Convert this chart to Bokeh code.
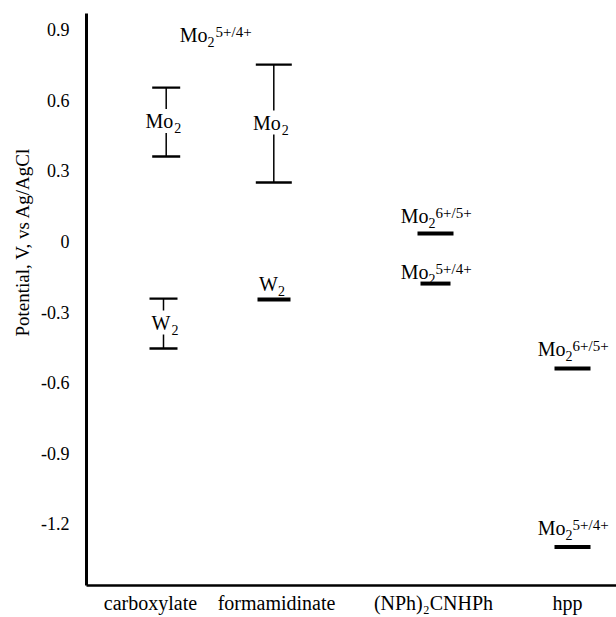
import numpy as np
from bokeh.plotting import figure
from bokeh.models import Range1d, FixedTicker, ColumnDataSource, Title
from bokeh.core.properties import value
from bokeh.embed import file_html
from bokeh.resources import INLINE

# ---------------- data ----------------
categories = ["carboxylate", "formamidinate", "(NPh)\u2082CNHPh", "hpp"]
category_x = [0.64, 1.90, 3.47, 4.81]

y_ticks = [0.9, 0.6, 0.3, 0.0, -0.3, -0.6, -0.9, -1.2]
y_tick_labels = ["0.9", "0.6", "0.3", "0", "-0.3", "-0.6", "-0.9", "-1.2"]
y_title = "Potential, V, vs Ag/AgCl"

# potential ranges drawn as I-bars
range_x = [0.797, 1.873, 0.77]
range_lo = [0.362, 0.251, -0.455]
range_hi = [0.655, 0.753, -0.243]
range_metal = ["Mo", "Mo", "W"]

# single potentials drawn as level bars
level_x = [1.875, 3.49, 3.49, 4.86, 4.86]
level_y = [-0.247, 0.034, -0.179, -0.540, -1.300]
level_metal = ["W", "Mo", "Mo", "Mo", "Mo"]
level_couple = ["", "6+/5+", "5+/4+", "6+/5+", "5+/4+"]

# header over the Mo2 ranges
header_x = [1.34]
header_y = [0.847]
header_metal = ["Mo"]
header_couple = ["5+/4+"]

# ---------------- styles ----------------
FONT = value("Liberation Serif")
cap_half = [0.14, 0.18, 0.14]
level_half = [0.165, 0.18, 0.15, 0.18, 0.18]
level_dx = [4, -7, -7, -7, -7]
level_dy = [-9, -11, -5, -12, -12]
SH_MAIN = -7   # baseline correction for 20px text
SH_SMALL = -5  # baseline correction for 14-15px text

p = figure(width=616, height=617, output_backend="svg", toolbar_location=None,
           x_range=Range1d(0, 5.30), y_range=Range1d(-1.4638, 0.9702),
           min_border_left=86, min_border_right=0, min_border_top=13, min_border_bottom=32,
           background_fill_color="white", border_fill_color="white")
p.outline_line_color = None
p.grid.visible = False

# I-bars
rx = np.array(range_x); rlo = np.array(range_lo); rhi = np.array(range_hi); ch = np.array(cap_half)
rsrc = ColumnDataSource(dict(x=rx, lo=rlo, hi=rhi, x0=rx - ch, x1=rx + ch,
                             mid=(rlo + rhi) / 2, metal=range_metal, sub=["2"] * len(rx)))
p.segment(x0="x", y0="lo", x1="x", y1="hi", source=rsrc, line_color="black", line_width=1.5)
p.segment(x0="x0", y0="hi", x1="x1", y1="hi", source=rsrc, line_color="black", line_width=2.2)
p.segment(x0="x0", y0="lo", x1="x1", y1="lo", source=rsrc, line_color="black", line_width=2.6)
p.text(x="x", y="mid", text="metal", source=rsrc, text_align="right", text_baseline="alphabetic",
       x_offset=8, y_offset=6 + SH_MAIN, text_font=FONT, text_font_size="20px", text_color="black",
       background_fill_color="white", padding=1)
p.text(x="x", y="mid", text="sub", source=rsrc, text_align="left", text_baseline="alphabetic",
       x_offset=8, y_offset=11 + SH_SMALL, text_font=FONT, text_font_size="14px", text_color="black")

# level bars
lx = np.array(level_x); ly = np.array(level_y); lh = np.array(level_half)
ldx = np.array(level_dx); ldy = np.array(level_dy)
lsrc = ColumnDataSource(dict(x=lx, y=ly, x0=lx - lh, x1=lx + lh, metal=level_metal,
                             sub=["2"] * len(lx), sup=level_couple,
                             dx=ldx, dy=ldy + SH_MAIN, dy_sub=ldy + 5 + SH_SMALL,
                             dx_sup=ldx + 7, dy_sup=ldy - 5 + SH_SMALL))
p.segment(x0="x0", y0="y", x1="x1", y1="y", source=lsrc, line_color="black", line_width=4)
p.text(x="x", y="y", text="metal", source=lsrc, text_align="right", text_baseline="alphabetic",
       x_offset="dx", y_offset="dy", text_font=FONT, text_font_size="20px", text_color="black")
p.text(x="x", y="y", text="sub", source=lsrc, text_align="left", text_baseline="alphabetic",
       x_offset="dx", y_offset="dy_sub", text_font=FONT, text_font_size="14px", text_color="black")
p.text(x="x", y="y", text="sup", source=lsrc, text_align="left", text_baseline="alphabetic",
       x_offset="dx_sup", y_offset="dy_sup", text_font=FONT, text_font_size="15px", text_color="black")

# header
hsrc = ColumnDataSource(dict(x=header_x, y=header_y, metal=header_metal, sub=["2"], sup=header_couple))
p.text(x="x", y="y", text="metal", source=hsrc, text_align="right", text_baseline="alphabetic",
       x_offset=-13, y_offset=SH_MAIN, text_font=FONT, text_font_size="20px", text_color="black")
p.text(x="x", y="y", text="sub", source=hsrc, text_align="left", text_baseline="alphabetic",
       x_offset=-13, y_offset=5 + SH_SMALL, text_font=FONT, text_font_size="14px", text_color="black")
p.text(x="x", y="y", text="sup", source=hsrc, text_align="left", text_baseline="alphabetic",
       x_offset=-5, y_offset=-5 + SH_SMALL, text_font=FONT, text_font_size="15px", text_color="black")

# axes
p.xaxis.ticker = FixedTicker(ticks=category_x)
p.xaxis.major_label_overrides = {x: c for x, c in zip(category_x, categories)}
p.xaxis.major_tick_line_color = None
p.xaxis.minor_tick_line_color = None
p.xaxis.axis_line_width = 2.5
p.xaxis.major_label_standoff = 0
p.xaxis.axis_label_standoff = 0
p.xaxis.major_label_text_font = "Liberation Serif"
p.xaxis.major_label_text_font_size = "20px"
p.xaxis.major_label_text_color = "black"

p.yaxis.ticker = FixedTicker(ticks=y_ticks)
p.yaxis.major_label_overrides = {t: l for t, l in zip(y_ticks, y_tick_labels)}
p.yaxis.major_tick_line_color = None
p.yaxis.minor_tick_line_color = None
p.yaxis.axis_line_width = 3
p.yaxis.major_label_standoff = 11
p.yaxis.axis_label_standoff = 0
p.yaxis.major_label_text_font = "Liberation Serif"
p.yaxis.major_label_text_font_size = "18px"
p.yaxis.major_label_text_color = "black"

# y title as a left-side title, anchored at the bottom of the axis and shifted up
p.add_layout(Title(text=y_title, align="left", offset=249, standoff=11,
                   text_font="Liberation Serif", text_font_style="normal",
                   text_font_size="19px", text_color="black"), "left")

open("out.html", "w").write(file_html(p, INLINE))
